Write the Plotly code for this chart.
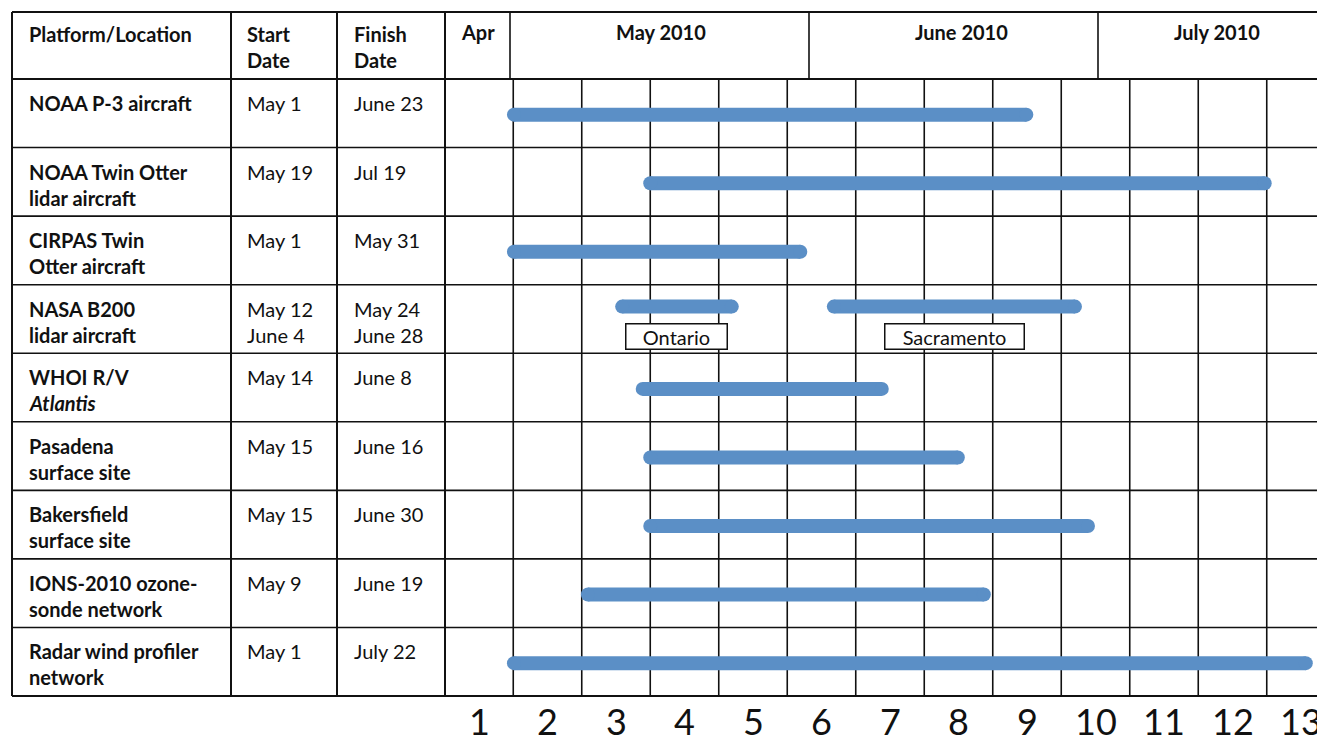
import plotly.graph_objects as go

# ---------------- data ----------------
platforms = [
    "NOAA P-3 aircraft",
    "NOAA Twin Otter\nlidar aircraft",
    "CIRPAS Twin\nOtter aircraft",
    "NASA B200\nlidar aircraft",
    "WHOI R/V\n<i>Atlantis</i>",
    "Pasadena\nsurface site",
    "Bakersfield\nsurface site",
    "IONS-2010 ozone-\nsonde network",
    "Radar wind profiler\nnetwork",
]
start_dates = ["May 1", "May 19", "May 1", "May 12\nJune 4", "May 14",
               "May 15", "May 15", "May 9", "May 1"]
finish_dates = ["June 23", "Jul 19", "May 31", "May 24\nJune 28", "June 8",
                "June 16", "June 30", "June 19", "July 22"]

# bar segments, in week units (week column k is centred on k)
bar_row = [1, 2, 3, 4, 4, 5, 6, 7, 8, 9]
bar_start = [1.51, 3.50, 1.51, 3.09, 6.18, 3.39, 3.50, 3.50, 2.59, 1.51]
bar_end = [8.99, 12.47, 5.69, 4.69, 9.70, 6.88, 7.99, 9.89, 8.37, 13.07]
bar_label = [None, None, None, "Ontario", "Sacramento", None, None, None, None, None]

week_numbers = list(range(1, 14))
month_labels = ["Apr", "May 2010", "June 2010", "July 2010"]
header_cols = ["Platform/Location", "Start\nDate", "Finish\nDate"]

# ---------------- geometry helpers (page pixel -> axis units) ----------------
W, H = 1325, 743
OFF = 8                    # page body margin in front of the figure
X0, XW = 479.0, 68.5       # px of week-1 centre, px per week
Y0, YH = 113.28, 68.56     # px of row-1 centre, px per row


def X(px):
    return (px - X0) / XW + 1


def Y(py):
    return (py - Y0) / YH + 1


BAR_COLOR = "#5b8fc6"
FONT = "Lato"
TXT = 20
LINE = "#111111"

fig = go.Figure()

# bars
for r, s, e, lab in zip(bar_row, bar_start, bar_end, bar_label):
    yy = r + (-0.18 if lab else 0.02)
    fig.add_trace(go.Scatter(
        x=[s, e], y=[yy, yy], mode="lines+markers",
        line=dict(color=BAR_COLOR, width=14),
        marker=dict(color=BAR_COLOR, size=14, line=dict(width=0)),
        hoverinfo="skip", showlegend=False,
    ))
    if lab:
        fig.add_annotation(
            x=(s + e) / 2, y=r + 0.25, xref="x", yref="y",
            text=lab, showarrow=False,
            font=dict(family=FONT, size=20, color="#111"),
            bgcolor="white", bordercolor=LINE, borderwidth=1.5,
            width=98 if lab == "Ontario" else 136, height=22,
        )

shapes = []
n_rows = len(platforms)
top_px, head_px = 12, 79
bottom_y = n_rows + 0.5


def hline(y, x0, x1, w=1.6):
    shapes.append(dict(type="line", xref="x", yref="y", x0=x0, x1=x1, y0=y, y1=y,
                       line=dict(color=LINE, width=w), layer="below"))


def vline(x, y0, y1, w=1.6):
    shapes.append(dict(type="line", xref="x", yref="y", x0=x, x1=x, y0=y0, y1=y1,
                       line=dict(color=LINE, width=w), layer="below"))


xl, xr = X(12), X(W + 5)
hline(Y(top_px), xl, xr, 2)
hline(Y(head_px), xl, xr, 2)
for k in range(1, n_rows + 1):
    hline(k + 0.5, xl, xr, 2 if k == n_rows else 1.6)

# table text-column separators (full height)
for px in [12, 231, 337, 445]:
    vline(X(px), Y(top_px), bottom_y, 2)
# header month boundaries
for px in [510, 809, 1098]:
    vline(X(px), Y(top_px), Y(head_px), 1.6)
# body week boundaries
for k in week_numbers[:-1]:
    vline(k + 0.5, Y(head_px), bottom_y, 1.6)

fig.update_layout(shapes=shapes)


def add_lines(text, px, first_py, bold=False, size=TXT):
    for j, t in enumerate(text.split("\n")):
        fig.add_annotation(
            x=X(px), y=Y(first_py + 26 * j), xref="x", yref="y",
            text=f"<b>{t}</b>" if bold else t, showarrow=False,
            xanchor="left", yanchor="middle",
            font=dict(family=FONT, size=size, color="#111"),
        )


# header
add_lines(header_cols[0], 27, top_px + 22, bold=True)
add_lines(header_cols[1], 245, top_px + 22, bold=True)
add_lines(header_cols[2], 352, top_px + 22, bold=True)
for lab, cx in zip(month_labels, [478, 661, 961, 1217]):
    fig.add_annotation(x=X(cx), y=Y(32), xref="x", yref="y", text=f"<b>{lab}</b>",
                       showarrow=False, font=dict(family=FONT, size=TXT, color="#111"))

# rows
for i in range(n_rows):
    top = head_px + i * YH
    add_lines(platforms[i], 27, top + 24, bold=True)
    add_lines(start_dates[i], 245, top + 24)
    add_lines(finish_dates[i], 352, top + 24)

# week numbers
for k in week_numbers:
    fig.add_annotation(x=k, y=Y(721), xref="x", yref="y", text=str(k), showarrow=False,
                       font=dict(family=FONT, size=36, color="#111"))

fig.update_layout(
    width=W - OFF, height=H - OFF, margin=dict(l=0, r=0, t=0, b=0),
    paper_bgcolor="white", plot_bgcolor="white",
    xaxis=dict(range=[X(OFF), X(W)], visible=False, fixedrange=True),
    yaxis=dict(range=[Y(H), Y(OFF)], visible=False, fixedrange=True),
)

fig.write_html("out.html")
